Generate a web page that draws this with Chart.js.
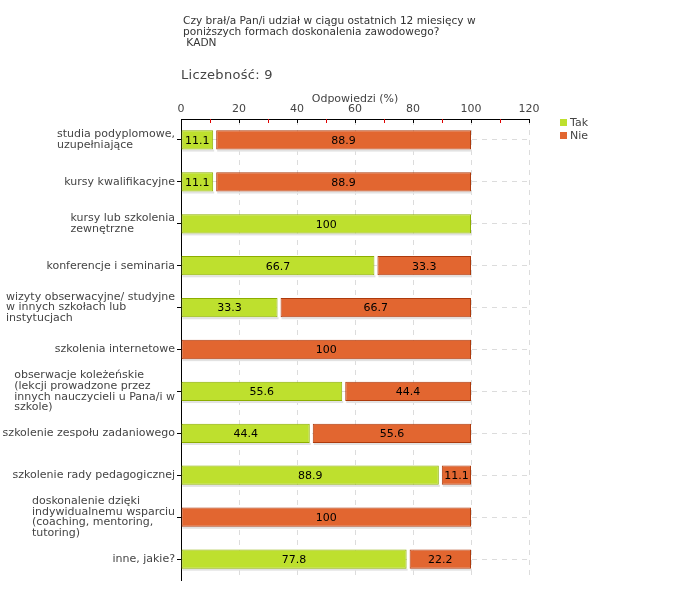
<!DOCTYPE html>
<html>
<head>
<meta charset="utf-8">
<script src="https://cdn.jsdelivr.net/npm/chart.js@4"></script>
<style>
  body { margin: 0; background: #fff; font-family: 'DejaVu Sans', sans-serif; }
  #wrap { position: relative; width: 680px; height: 600px; }
  #tytul { position: absolute; left: 183px; top: 15px; font-size: 10.6px; line-height: 11px; color: #333; white-space: pre; }
  #liczebnosc { position: absolute; left: 181px; top: 67px; font-size: 13px; color: #444; letter-spacing: 0.3px; }
  #legenda { position: absolute; left: 560px; top: 116px; font-size: 11px; color: #444; }
  #legenda div { height: 13px; line-height: 13px; }
  #legenda span { display: inline-block; width: 7px; height: 7px; margin-right: 3px; vertical-align: 0px; }
</style>
</head>
<body>
<div id="wrap">
  <div id="tytul">Czy brał/a Pan/i udział w ciągu ostatnich 12 miesięcy w
poniższych formach doskonalenia zawodowego?
 KADN</div>
  <div id="liczebnosc">Liczebność: 9</div>
  <div id="legenda"></div>
  <canvas id="wykres" width="680" height="600"></canvas>
</div>
<script>
// Dane
const kategorie = [
  ['studia podyplomowe,', 'uzupełniające'],
  ['kursy kwalifikacyjne'],
  ['kursy lub szkolenia', 'zewnętrzne'],
  ['konferencje i seminaria'],
  ['wizyty obserwacyjne/ studyjne', 'w innych szkołach lub', 'instytucjach'],
  ['szkolenia internetowe'],
  ['obserwacje koleżeńskie', '(lekcji prowadzone przez', 'innych nauczycieli u Pana/i w', 'szkole)'],
  ['szkolenie zespołu zadaniowego'],
  ['szkolenie rady pedagogicznej'],
  ['doskonalenie dzięki', 'indywidualnemu wsparciu', '(coaching, mentoring,', 'tutoring)'],
  ['inne, jakie?']
];
const tak = [11.1, 11.1, 100, 66.7, 33.3, 0, 55.6, 44.4, 88.9, 0, 77.8];
const nie = [88.9, 88.9, 0, 33.3, 66.7, 100, 44.4, 55.6, 11.1, 100, 22.2];
const serie = ['Tak', 'Nie'];
const osX = { min: 0, max: 120, krok: 20, krokMaly: 10 };

const kolory = {
  tak: { fill: '#bee02e', border: '#8cae00' },
  nie: { fill: '#e26630', border: '#ad3a0c' }
};
const FONT = "'DejaVu Sans', sans-serif";

// Legenda HTML
document.getElementById('legenda').innerHTML =
  `<div><span style="background:${kolory.tak.fill}"></span>${serie[0]}</div>` +
  `<div><span style="background:${kolory.nie.fill}"></span>${serie[1]}</div>`;

// Przerwa miedzy segmentami Tak / Nie
const przerwaPlugin = {
  id: 'przerwa',
  afterDatasetsUpdate(chart) {
    const meta = chart.getDatasetMeta(1);
    const left = chart.chartArea.left;
    meta.data.forEach((el, j) => {
      if (nie[j] && el.base > left + 1) el.base += 3;
    });
  }
};

// Cien pod slupkami
const cienPlugin = {
  id: 'cien',
  beforeDatasetsDraw(chart) {
    const ctx = chart.ctx;
    ctx.save();
    ctx.fillStyle = '#e2e2e2';
    chart.data.datasets.forEach((ds, i) => {
      chart.getDatasetMeta(i).data.forEach((el, j) => {
        if (!ds.data[j]) return;
        const l = Math.min(el.x, el.base), r = Math.max(el.x, el.base);
        ctx.fillRect(l + 1, el.y + el.height / 2, r - l, 2);
      });
    });
    ctx.restore();
  }
};

// Etykiety wartosci, znaczniki osi X, etykiety osi Y
const opisyPlugin = {
  id: 'opisy',
  afterDatasetsDraw(chart) {
    const ctx = chart.ctx;
    ctx.save();
    ctx.font = `11px ${FONT}`;
    ctx.fillStyle = '#000';
    ctx.textAlign = 'center';
    ctx.textBaseline = 'middle';
    chart.data.datasets.forEach((ds, i) => {
      chart.getDatasetMeta(i).data.forEach((el, j) => {
        const v = ds.data[j];
        if (!v) return;
        ctx.fillText(String(v), (el.x + el.base) / 2, el.y + 1);
      });
    });
    ctx.restore();
  },
  afterDraw(chart) {
    const ctx = chart.ctx;
    const sx = chart.scales.x, sy = chart.scales.y;
    const top = chart.chartArea.top;
    ctx.save();
    ctx.lineWidth = 1;
    for (let v = osX.min; v <= osX.max; v += osX.krokMaly) {
      const px = Math.round(sx.getPixelForValue(v)) + 0.5;
      ctx.strokeStyle = (v % osX.krok === 0) ? '#000' : '#e00000';
      ctx.beginPath();
      ctx.moveTo(px, top);
      ctx.lineTo(px, top + 4);
      ctx.stroke();
    }
    // etykiety kategorii: blok wyrownany do prawej, linie do lewej
    ctx.font = `11px ${FONT}`;
    ctx.fillStyle = '#444';
    ctx.textAlign = 'left';
    ctx.textBaseline = 'middle';
    const lh = 10.7;
    kategorie.forEach((linie, i) => {
      const w = Math.max(...linie.map(t => ctx.measureText(t).width));
      const x0 = sy.right - 6 - w;
      const yc = sy.getPixelForTick(i);
      linie.forEach((t, k) => {
        ctx.fillText(t, x0, yc + (k - (linie.length - 1) / 2) * lh);
      });
    });
    ctx.restore();
  }
};

const szerRamki = ctx => (ctx.raw ? 1 : 0);

new Chart(document.getElementById('wykres'), {
  type: 'bar',
  data: {
    labels: kategorie,
    datasets: [
      { label: serie[0], data: tak, backgroundColor: kolory.tak.fill, borderColor: kolory.tak.border, borderWidth: szerRamki, borderSkipped: false },
      { label: serie[1], data: nie, backgroundColor: kolory.nie.fill, borderColor: kolory.nie.border, borderWidth: szerRamki, borderSkipped: false }
    ]
  },
  options: {
    indexAxis: 'y',
    responsive: false,
    animation: false,
    events: [],
    datasets: { bar: { categoryPercentage: 1, barPercentage: 0.46 } },
    layout: { padding: { left: 0, top: 88, right: 151, bottom: 20 } },
    plugins: { legend: { display: false }, tooltip: { enabled: false } },
    scales: {
      x: {
        position: 'top',
        stacked: true,
        min: osX.min,
        max: osX.max,
        afterFit(s) { s.height = 31; },
        ticks: { stepSize: osX.krok, color: '#444', padding: 3, font: { family: FONT, size: 11 } },
        grid: { color: '#dcdcdc', drawTicks: false },
        border: { color: '#000', width: 1, dash: [5, 5] },
        title: { display: true, text: 'Odpowiedzi (%)', color: '#444', font: { family: FONT, size: 11 }, padding: { top: 5, bottom: 2 } }
      },
      y: {
        stacked: true,
        afterFit(s) { s.width = 181; },
        ticks: { display: false },
        grid: { offset: false, color: '#dcdcdc', tickLength: 4, tickColor: '#000', tickBorderDash: [], tickWidth: 1 },
        border: { color: '#000', width: 1, dash: [5, 5] }
      }
    }
  },
  plugins: [przerwaPlugin, cienPlugin, opisyPlugin]
});
</script>
</body>
</html>
